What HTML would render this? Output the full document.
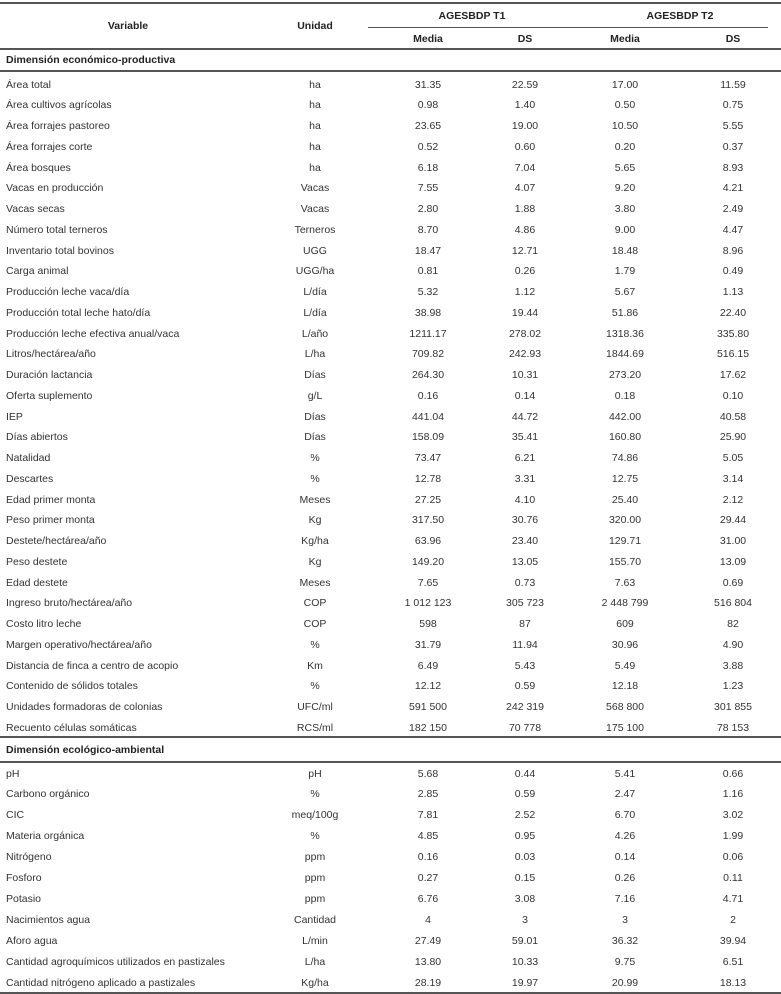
<!DOCTYPE html>
<html><head><meta charset="utf-8"><style>
body{margin:0;width:781px;height:994px;background:#fff;font-family:"Liberation Sans",sans-serif;font-size:10.5px;color:#333;position:relative;overflow:hidden}
.ln{position:absolute;left:0;width:781px;background:#555}
.r{position:relative;height:20.75px;line-height:20.75px}
.r2{position:relative;height:20.95px;line-height:20.95px}
.r span,.r2 span{position:absolute;top:0;width:110px;text-align:center;white-space:nowrap}
.r span.v,.r2 span.v{left:6px;width:300px;text-align:left}
.u{left:260px}.a{left:373px}.b{left:470px}.c{left:570px}.d{left:678px}
.h{position:absolute;font-weight:bold;color:#222;text-align:center;width:120px}
.sec{position:absolute;left:6px;font-weight:bold;color:#222}
</style></head><body>
<div class="ln" style="top:2px;height:2px"></div>
<div class="h" style="left:68px;top:20px">Variable</div>
<div class="h" style="left:255px;top:20px">Unidad</div>
<div class="h" style="left:412px;top:10px">AGESBDP T1</div>
<div class="h" style="left:620px;top:10px">AGESBDP T2</div>
<div style="position:absolute;left:368px;width:400px;top:27px;height:1px;background:#555"></div>
<div class="h" style="left:368px;top:33px">Media</div>
<div class="h" style="left:465px;top:33px">DS</div>
<div class="h" style="left:565px;top:33px">Media</div>
<div class="h" style="left:673px;top:33px">DS</div>
<div class="ln" style="top:48px;height:2px"></div>
<div class="sec" style="top:54px">Dimensión económico-productiva</div>
<div class="ln" style="top:70px;height:2px"></div>
<div style="position:absolute;top:74.5px;left:0;width:781px">
<div class="r"><span class="v">Área total</span><span class="u">ha</span><span class="a">31.35</span><span class="b">22.59</span><span class="c">17.00</span><span class="d">11.59</span></div>
<div class="r"><span class="v">Área cultivos agrícolas</span><span class="u">ha</span><span class="a">0.98</span><span class="b">1.40</span><span class="c">0.50</span><span class="d">0.75</span></div>
<div class="r"><span class="v">Área forrajes pastoreo</span><span class="u">ha</span><span class="a">23.65</span><span class="b">19.00</span><span class="c">10.50</span><span class="d">5.55</span></div>
<div class="r"><span class="v">Área forrajes corte</span><span class="u">ha</span><span class="a">0.52</span><span class="b">0.60</span><span class="c">0.20</span><span class="d">0.37</span></div>
<div class="r"><span class="v">Área bosques</span><span class="u">ha</span><span class="a">6.18</span><span class="b">7.04</span><span class="c">5.65</span><span class="d">8.93</span></div>
<div class="r"><span class="v">Vacas en producción</span><span class="u">Vacas</span><span class="a">7.55</span><span class="b">4.07</span><span class="c">9.20</span><span class="d">4.21</span></div>
<div class="r"><span class="v">Vacas secas</span><span class="u">Vacas</span><span class="a">2.80</span><span class="b">1.88</span><span class="c">3.80</span><span class="d">2.49</span></div>
<div class="r"><span class="v">Número total terneros</span><span class="u">Terneros</span><span class="a">8.70</span><span class="b">4.86</span><span class="c">9.00</span><span class="d">4.47</span></div>
<div class="r"><span class="v">Inventario total bovinos</span><span class="u">UGG</span><span class="a">18.47</span><span class="b">12.71</span><span class="c">18.48</span><span class="d">8.96</span></div>
<div class="r"><span class="v">Carga animal</span><span class="u">UGG/ha</span><span class="a">0.81</span><span class="b">0.26</span><span class="c">1.79</span><span class="d">0.49</span></div>
<div class="r"><span class="v">Producción leche vaca/día</span><span class="u">L/día</span><span class="a">5.32</span><span class="b">1.12</span><span class="c">5.67</span><span class="d">1.13</span></div>
<div class="r"><span class="v">Producción total leche hato/día</span><span class="u">L/día</span><span class="a">38.98</span><span class="b">19.44</span><span class="c">51.86</span><span class="d">22.40</span></div>
<div class="r"><span class="v">Producción leche efectiva anual/vaca</span><span class="u">L/año</span><span class="a">1211.17</span><span class="b">278.02</span><span class="c">1318.36</span><span class="d">335.80</span></div>
<div class="r"><span class="v">Litros/hectárea/año</span><span class="u">L/ha</span><span class="a">709.82</span><span class="b">242.93</span><span class="c">1844.69</span><span class="d">516.15</span></div>
<div class="r"><span class="v">Duración lactancia</span><span class="u">Días</span><span class="a">264.30</span><span class="b">10.31</span><span class="c">273.20</span><span class="d">17.62</span></div>
<div class="r"><span class="v">Oferta suplemento</span><span class="u">g/L</span><span class="a">0.16</span><span class="b">0.14</span><span class="c">0.18</span><span class="d">0.10</span></div>
<div class="r"><span class="v">IEP</span><span class="u">Días</span><span class="a">441.04</span><span class="b">44.72</span><span class="c">442.00</span><span class="d">40.58</span></div>
<div class="r"><span class="v">Días abiertos</span><span class="u">Días</span><span class="a">158.09</span><span class="b">35.41</span><span class="c">160.80</span><span class="d">25.90</span></div>
<div class="r"><span class="v">Natalidad</span><span class="u">%</span><span class="a">73.47</span><span class="b">6.21</span><span class="c">74.86</span><span class="d">5.05</span></div>
<div class="r"><span class="v">Descartes</span><span class="u">%</span><span class="a">12.78</span><span class="b">3.31</span><span class="c">12.75</span><span class="d">3.14</span></div>
<div class="r"><span class="v">Edad primer monta</span><span class="u">Meses</span><span class="a">27.25</span><span class="b">4.10</span><span class="c">25.40</span><span class="d">2.12</span></div>
<div class="r"><span class="v">Peso primer monta</span><span class="u">Kg</span><span class="a">317.50</span><span class="b">30.76</span><span class="c">320.00</span><span class="d">29.44</span></div>
<div class="r"><span class="v">Destete/hectárea/año</span><span class="u">Kg/ha</span><span class="a">63.96</span><span class="b">23.40</span><span class="c">129.71</span><span class="d">31.00</span></div>
<div class="r"><span class="v">Peso destete</span><span class="u">Kg</span><span class="a">149.20</span><span class="b">13.05</span><span class="c">155.70</span><span class="d">13.09</span></div>
<div class="r"><span class="v">Edad destete</span><span class="u">Meses</span><span class="a">7.65</span><span class="b">0.73</span><span class="c">7.63</span><span class="d">0.69</span></div>
<div class="r"><span class="v">Ingreso bruto/hectárea/año</span><span class="u">COP</span><span class="a">1 012 123</span><span class="b">305 723</span><span class="c">2 448 799</span><span class="d">516 804</span></div>
<div class="r"><span class="v">Costo litro leche</span><span class="u">COP</span><span class="a">598</span><span class="b">87</span><span class="c">609</span><span class="d">82</span></div>
<div class="r"><span class="v">Margen operativo/hectárea/año</span><span class="u">%</span><span class="a">31.79</span><span class="b">11.94</span><span class="c">30.96</span><span class="d">4.90</span></div>
<div class="r"><span class="v">Distancia de finca a centro de acopio</span><span class="u">Km</span><span class="a">6.49</span><span class="b">5.43</span><span class="c">5.49</span><span class="d">3.88</span></div>
<div class="r"><span class="v">Contenido de sólidos totales</span><span class="u">%</span><span class="a">12.12</span><span class="b">0.59</span><span class="c">12.18</span><span class="d">1.23</span></div>
<div class="r"><span class="v">Unidades formadoras de colonias</span><span class="u">UFC/ml</span><span class="a">591 500</span><span class="b">242 319</span><span class="c">568 800</span><span class="d">301 855</span></div>
<div class="r"><span class="v">Recuento células somáticas</span><span class="u">RCS/ml</span><span class="a">182 150</span><span class="b">70 778</span><span class="c">175 100</span><span class="d">78 153</span></div>
</div>
<div class="ln" style="top:736px;height:2px"></div>
<div class="sec" style="top:744px">Dimensión ecológico-ambiental</div>
<div class="ln" style="top:761px;height:2px"></div>
<div style="position:absolute;top:763.5px;left:0;width:781px">
<div class="r2"><span class="v">pH</span><span class="u">pH</span><span class="a">5.68</span><span class="b">0.44</span><span class="c">5.41</span><span class="d">0.66</span></div>
<div class="r2"><span class="v">Carbono orgánico</span><span class="u">%</span><span class="a">2.85</span><span class="b">0.59</span><span class="c">2.47</span><span class="d">1.16</span></div>
<div class="r2"><span class="v">CIC</span><span class="u">meq/100g</span><span class="a">7.81</span><span class="b">2.52</span><span class="c">6.70</span><span class="d">3.02</span></div>
<div class="r2"><span class="v">Materia orgánica</span><span class="u">%</span><span class="a">4.85</span><span class="b">0.95</span><span class="c">4.26</span><span class="d">1.99</span></div>
<div class="r2"><span class="v">Nitrógeno</span><span class="u">ppm</span><span class="a">0.16</span><span class="b">0.03</span><span class="c">0.14</span><span class="d">0.06</span></div>
<div class="r2"><span class="v">Fosforo</span><span class="u">ppm</span><span class="a">0.27</span><span class="b">0.15</span><span class="c">0.26</span><span class="d">0.11</span></div>
<div class="r2"><span class="v">Potasio</span><span class="u">ppm</span><span class="a">6.76</span><span class="b">3.08</span><span class="c">7.16</span><span class="d">4.71</span></div>
<div class="r2"><span class="v">Nacimientos agua</span><span class="u">Cantidad</span><span class="a">4</span><span class="b">3</span><span class="c">3</span><span class="d">2</span></div>
<div class="r2"><span class="v">Aforo agua</span><span class="u">L/min</span><span class="a">27.49</span><span class="b">59.01</span><span class="c">36.32</span><span class="d">39.94</span></div>
<div class="r2"><span class="v">Cantidad agroquímicos utilizados en pastizales</span><span class="u">L/ha</span><span class="a">13.80</span><span class="b">10.33</span><span class="c">9.75</span><span class="d">6.51</span></div>
<div class="r2"><span class="v">Cantidad nitrógeno aplicado a pastizales</span><span class="u">Kg/ha</span><span class="a">28.19</span><span class="b">19.97</span><span class="c">20.99</span><span class="d">18.13</span></div>
</div>
<div class="ln" style="top:992px;height:2px"></div>
</body></html>
